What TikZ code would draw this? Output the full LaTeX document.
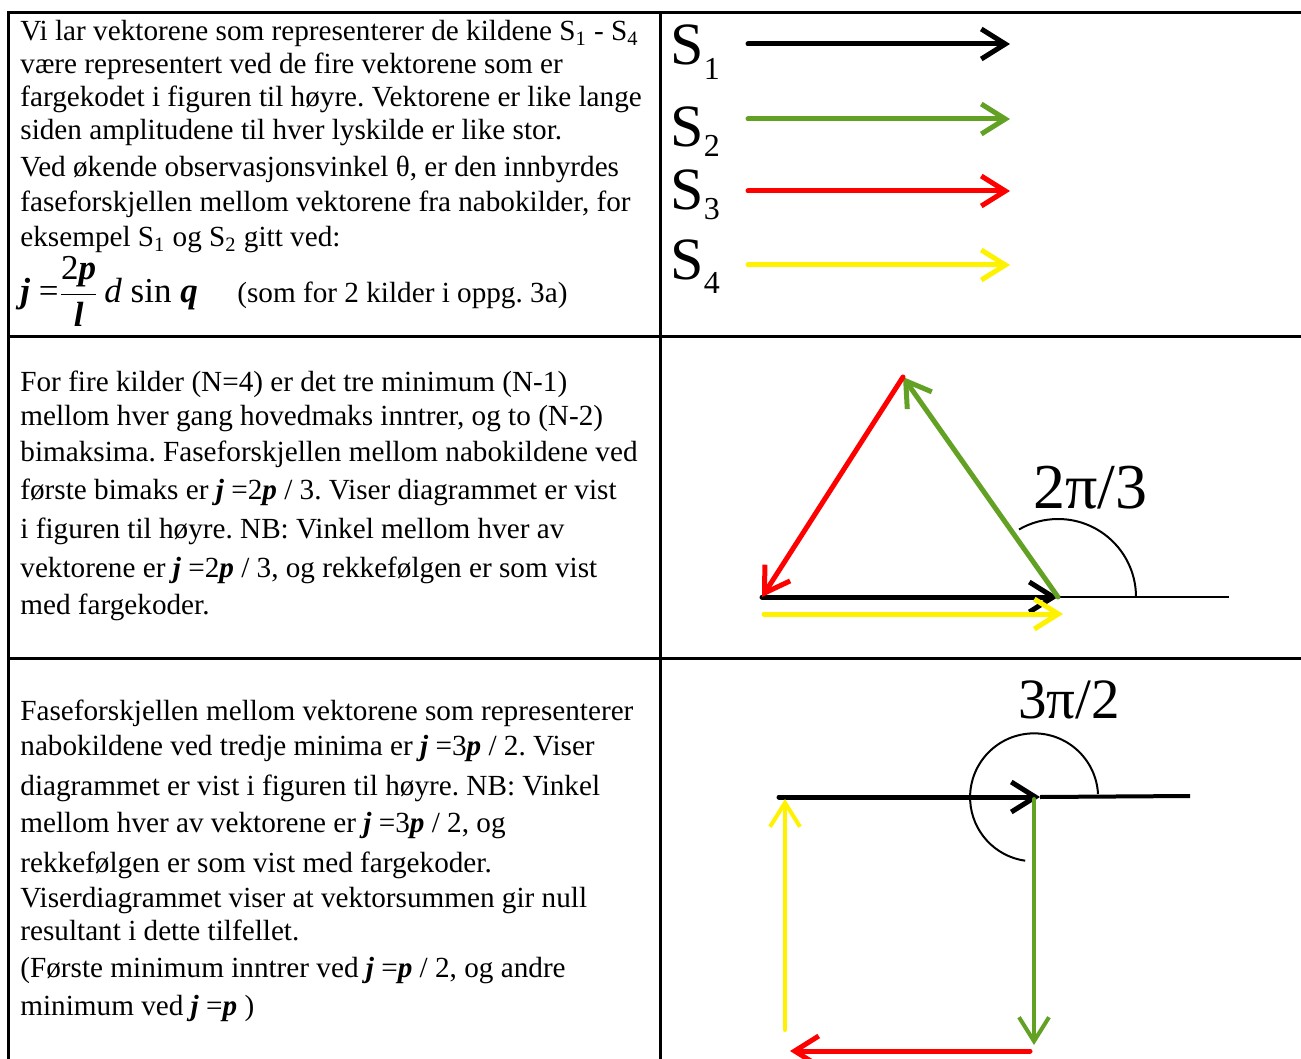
\documentclass[tikz,border=0pt]{standalone}
\usepackage{amsmath}
\usepackage{fontspec}
\setmainfont{Liberation Serif}
\usetikzlibrary{arrows.meta}
\definecolor{vgreen}{RGB}{99,161,36}
\newcommand{\fsym}[1]{\textbf{\textit{#1}}}
\frenchspacing
\tikzset{
  vec/.style={-{Straight Barb[length=12pt, width=15pt]}, line width=2.5pt, line cap=round},
  thinvec/.style={vec, line width=2pt},
  gridline/.style={line width=1.5pt},
  refline/.style={line width=1pt},
  celltext/.style={anchor=base west, inner sep=0pt, align=left, font=\fontsize{14.6}{17}\selectfont},
  srclabel/.style={anchor=base west, inner sep=0pt, font=\fontsize{30}{30}\selectfont},
  anglabel/.style={anchor=base west, inner sep=0pt, font=\fontsize{32}{32}\selectfont}
}

\begin{document}
\begin{tikzpicture}[x=0.5pt, y=-0.5pt]
  \useasboundingbox (0,0) rectangle (1301,1059);
  % table
  \draw[gridline] (8.5,1059) -- (8.5,12.5) -- (1301,12.5);
  \draw[gridline] (660.5,12.5) -- (660.5,1059);
  \draw[gridline] (8.5,336) -- (1301,336);
  \draw[gridline] (8.5,658) -- (1301,658);

  % text, left column (base = baseline of the last line)
  \node[celltext] (intro) at (20,247) {Vi lar vektorene som representerer de kildene S\textsubscript{1} - S\textsubscript{4}\\[-0.5pt]
    være representert ved de fire vektorene som er\\[-0.5pt]
    fargekodet i figuren til høyre. Vektorene er like lange\\[-0.5pt]
    siden amplitudene til hver lyskilde er like stor.\\[1.5pt]
    Ved økende observasjonsvinkel θ, er den innbyrdes\\[0.5pt]
    faseforskjellen mellom vektorene fra nabokilder, for\\[0.5pt]
    eksempel S\textsubscript{1} og S\textsubscript{2} gitt ved:};
  \node[anchor=base west, inner sep=0pt, font=\fontsize{17.5}{19}\selectfont] (phase) at (20,303)
    {\fsym{j} =$\dfrac{\text{2\fsym{p}}}{\text{\fsym{l}}}$\,\textit{d} sin \fsym{q}};
  \node[celltext] (phasenote) at (237,302) {(som for 2 kilder i oppg. 3a)};

  \node[celltext] (bimaks) at (20,614) {For fire kilder (N=4) er det tre minimum (N-1)\\
    mellom hver gang hovedmaks inntrer, og to (N-2)\\[1pt]
    bimaksima. Faseforskjellen mellom nabokildene ved\\[2pt]
    første bimaks er \fsym{j} =2\fsym{p} / 3. Viser diagrammet er vist\\[2.5pt]
    i figuren til høyre. NB: Vinkel mellom hver av\\[2.5pt]
    vektorene er \fsym{j} =2\fsym{p} / 3, og rekkefølgen er som vist\\[1.5pt]
    med fargekoder.};

  \node[celltext] (minima) at (20,1015) {Faseforskjellen mellom vektorene som representerer\\[0.5pt]
    nabokildene ved tredje minima er \fsym{j} =3\fsym{p} / 2. Viser\\[3pt]
    diagrammet er vist i figuren til høyre. NB: Vinkel\\[1.5pt]
    mellom hver av vektorene er \fsym{j} =3\fsym{p} / 2, og\\[3pt]
    rekkefølgen er som vist med fargekoder.\\[0.5pt]
    Viserdiagrammet viser at vektorsummen gir null\\[-0.5pt]
    resultant i dette tilfellet.\\[1.5pt]
    (Første minimum inntrer ved \fsym{j} =\fsym{p} / 2, og andre\\[2pt]
    minimum ved \fsym{j} =\fsym{p} )};

  % sources S1 - S4
  \foreach \i/\col/\ya/\yb/\dy in {1/black/44/65/7.5, 2/vgreen/119/147/5, 3/red/191/210/5, 4/yellow/265/280/6.5} {
    \node[srclabel] (s\i) at (670,\yb) {S\raisebox{-\dy pt}{\fontsize{16}{16}\selectfont\i}};
    \coordinate (t\i) at (748,\ya);
    \coordinate (h\i) at (1010,\ya);
    \draw[vec, \col] (t\i) -- (h\i);
  }

  % first side maximum, phi = 2pi/3
  \coordinate (A) at (762,597);
  \coordinate (B) at (1058,597);
  \coordinate (C) at (903,377);
  \coordinate (Bx) at (1229,597);
  \coordinate (Ya) at (764,614);
  \coordinate (Yb) at (1063,614);
  \draw[refline] (B) -- (Bx);
  \draw[refline] (B) ++(78,0) arc[start angle=0, end angle=-120, radius=78];
  \draw[vec, black] (A) -- (B);
  \draw[vec, vgreen] (B) -- (C);
  \draw[vec, red] (C) -- (A);
  \draw[vec, yellow] (Ya) -- (Yb);
  \node[anglabel] (ang1) at (1033,508) {2π/3};

  % third minimum, phi = 3pi/2
  \coordinate (K1) at (779,797);
  \coordinate (K2) at (1040,797);
  \coordinate (Kx) at (1190,796);
  \coordinate (G1) at (1034,799);
  \coordinate (G2) at (1034,1045);
  \coordinate (R1) at (1030,1051);
  \coordinate (R2) at (790,1051);
  \coordinate (Y1) at (785,1030);
  \coordinate (Y2) at (785,799);
  \draw[line width=2pt] (K2) -- (Kx);
  \draw[refline] (1034,797) ++(64,-3) arc[start angle=-3, end angle=-262, radius=64];
  \draw[vec, black] (K1) -- (K2);
  \draw[thinvec, vgreen] (G1) -- (G2);
  \draw[vec, red] (R1) -- (R2);
  \draw[thinvec, yellow] (Y1) -- (Y2);
  \node[anglabel, font=\fontsize{28.5}{28.5}\selectfont] (ang2) at (1018,718) {3π/2};
\end{tikzpicture}
\end{document}
